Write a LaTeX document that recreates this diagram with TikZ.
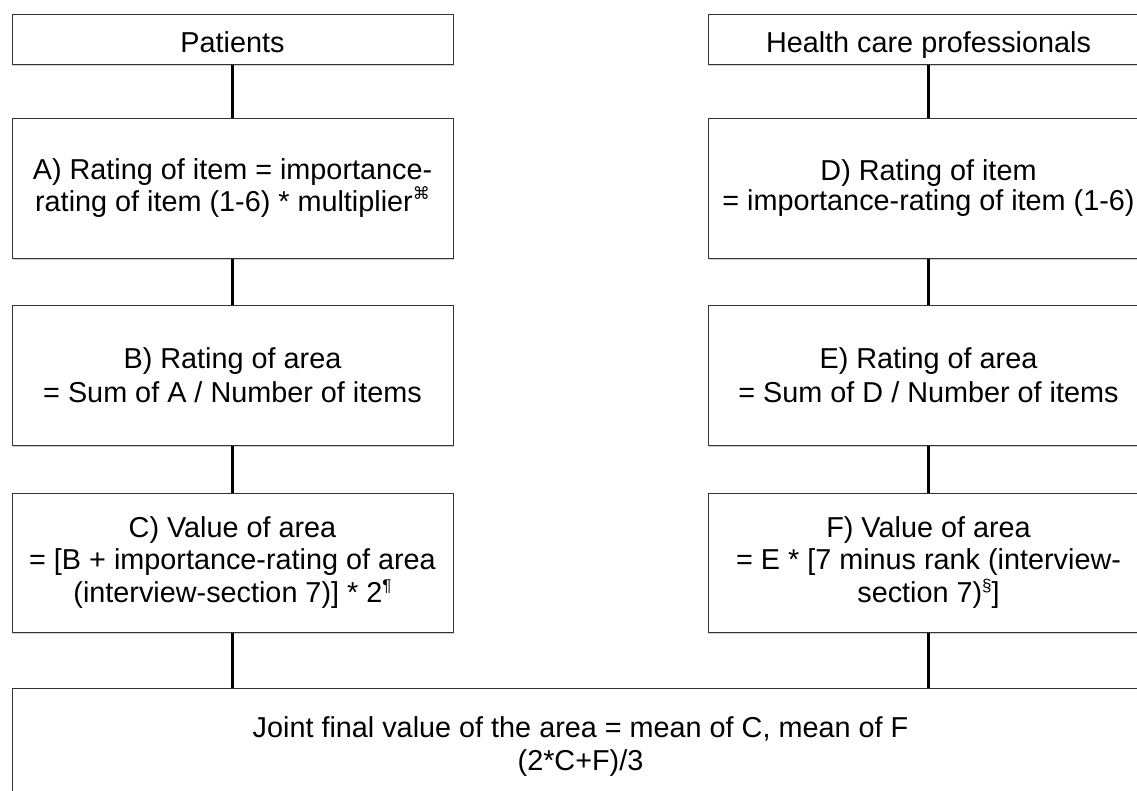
\documentclass[tikz,border=0pt]{standalone}
\usepackage{fontspec}
\setmainfont{Liberation Sans}
\newfontfamily\symfont{DejaVu Sans}
\usetikzlibrary{shadows}
\newcommand\supmark[1]{\raisebox{0.75ex}{\fontsize{17}{17}\selectfont #1}}
\begin{document}
\begin{tikzpicture}[x=1pt,y=-1pt,
  box/.style={draw=black!80, line width=1pt, fill=white, align=center,
    inner sep=0pt, minimum width=441pt,
    font=\fontsize{28.8}{34}\selectfont,
    drop shadow={shadow xshift=1pt, shadow yshift=-2pt, opacity=0.3, fill=black!60}},
  headbox/.style={box, minimum height=50pt, text height=28pt, text depth=2pt},
  link/.style={line width=2.6pt, black}]
\useasboundingbox (0,0) rectangle (1137,790);
\clip (0,0) rectangle (1137,790);
% left column
\node[headbox] (P) at (232.5,39) {Patients};
\node[box, minimum height=140pt, font=\fontsize{28.8}{30}\selectfont] (A) at (232.5,188)
  {A) Rating of item = importance-\\rating of item (1-6) * multiplier\supmark{\symfont ⌘}};
\node[box, minimum height=140pt] (B) at (232.5,375)
  {B) Rating of area\\= Sum of A / Number of items};
\node[box, minimum height=139pt, font=\fontsize{28.8}{32.5}\selectfont] (C) at (232.5,562.5)
  {C) Value of area\\= [B + importance-rating of area\\(interview-section 7)] * 2\supmark{¶}};
% right column
\node[headbox] (H) at (928.5,39) {Health care professionals};
\node[box, minimum height=140pt, font=\fontsize{28.8}{30}\selectfont] (D) at (928.5,188)
  {D) Rating of item\\= importance-rating of item (1-6)};
\node[box, minimum height=140pt] (E) at (928.5,375)
  {E) Rating of area\\= Sum of D / Number of items};
\node[box, minimum height=139pt, font=\fontsize{28.8}{32.5}\selectfont] (F) at (928.5,562.5)
  {F) Value of area\\= E * [7 minus rank (interview-\\section 7)\supmark{§}]};
% joint
\node[box, minimum width=1137pt, minimum height=117pt, font=\fontsize{28.8}{33}\selectfont] (J) at (580.5,746.5)
  {Joint final value of the area = mean of C, mean of F\\(2*C+F)/3};
% connectors
\draw[link] (P.south) -- (A.north);
\draw[link] (A.south) -- (B.north);
\draw[link] (B.south) -- (C.north);
\draw[link] (C.south) -- (C.south |- J.north);
\draw[link] (H.south) -- (D.north);
\draw[link] (D.south) -- (E.north);
\draw[link] (E.south) -- (F.north);
\draw[link] (F.south) -- (F.south |- J.north);
\end{tikzpicture}
\end{document}
